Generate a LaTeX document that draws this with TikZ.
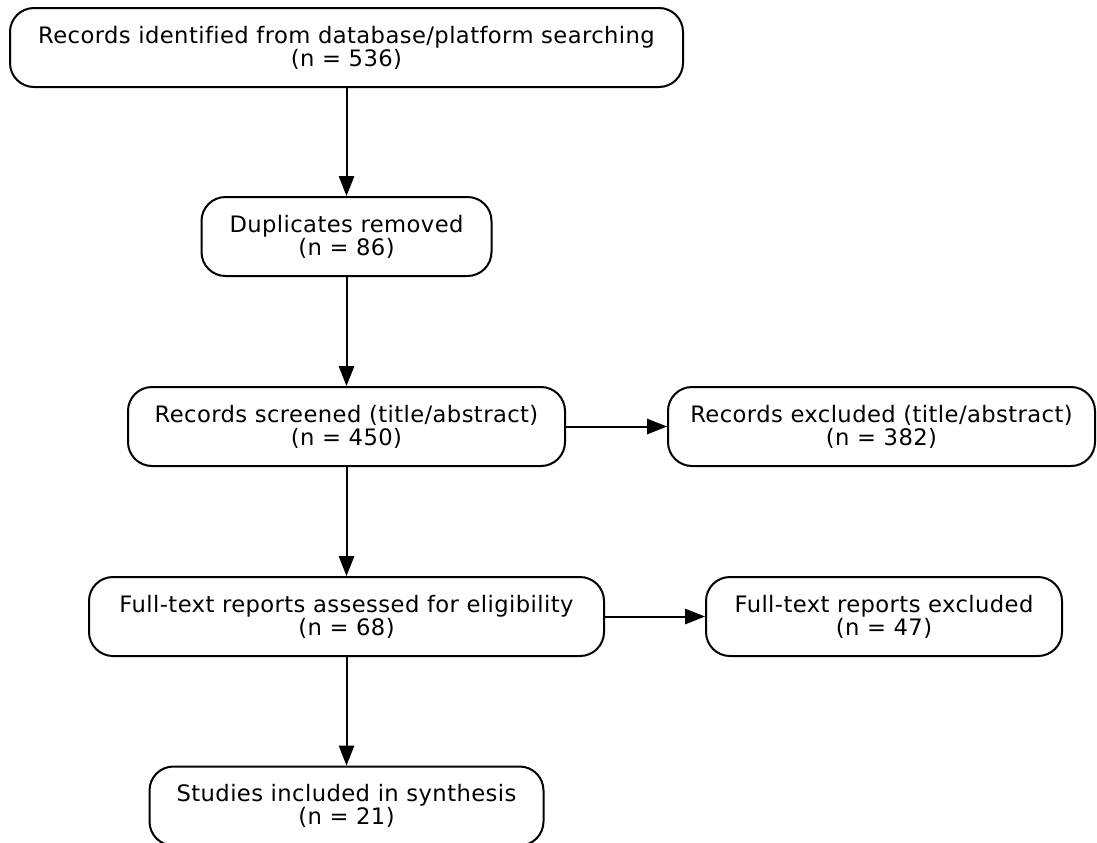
\documentclass[tikz,border=0pt]{standalone}
\usepackage{fontspec}
\setmainfont[LetterSpace=1.8,Ligatures=NoCommon]{DejaVu Sans}
\usetikzlibrary{arrows.meta}

\tikzset{every picture/.style={line width=1.5pt}}
\tikzset{
  stage/.style={draw, rounded corners=18pt, align=center, minimum height=59.25pt, inner sep=0pt,
    font=\fontsize{17}{17.25}\selectfont},
  flow/.style={-{Triangle[length=15pt,width=11.5pt]}}
}

\begin{document}
\begin{tikzpicture}[x=0.75pt,y=0.75pt,yscale=-1,xscale=1]
			\useasboundingbox (0,0) rectangle (1097,843);

			%Shape: Rounded Rect [id:ident]
			\node [stage, minimum width=504.75pt] (ident) at (346.5,47.5) {Records identified from database/platform searching\\(n = 536)};
			%Shape: Rounded Rect [id:dupl]
			\node [stage, minimum width=217.5pt] (dupl) at (346.5,236.5) {Duplicates removed\\(n = 86)};
			%Shape: Rounded Rect [id:screen]
			\node [stage, minimum width=327.75pt] (screen) at (346.5,426.5) {Records screened (title/abstract)\\(n = 450)};
			%Shape: Rounded Rect [id:exclTA]
			\node [stage, minimum width=320.25pt] (exclTA) at (881.5,426.5) {Records excluded (title/abstract)\\(n = 382)};
			%Shape: Rounded Rect [id:elig]
			\node [stage, minimum width=386.25pt] (elig) at (346.5,616.5) {Full-text reports assessed for eligibility\\(n = 68)};
			%Shape: Rounded Rect [id:exclFT]
			\node [stage, minimum width=267pt] (exclFT) at (884,616.5) {Full-text reports excluded\\(n = 47)};
			%Shape: Rounded Rect [id:incl]
			\node [stage, minimum width=295.5pt] (incl) at (346.5,806) {Studies included in synthesis\\(n = 21)};

			%Straight Lines
			\draw [flow] (ident) -- (dupl);
			\draw [flow] (dupl) -- (screen);
			\draw [flow] (screen) -- (exclTA);
			\draw [flow] (screen) -- (elig);
			\draw [flow] (elig) -- (exclFT);
			\draw [flow] (elig) -- (incl);
		\end{tikzpicture}
\end{document}
